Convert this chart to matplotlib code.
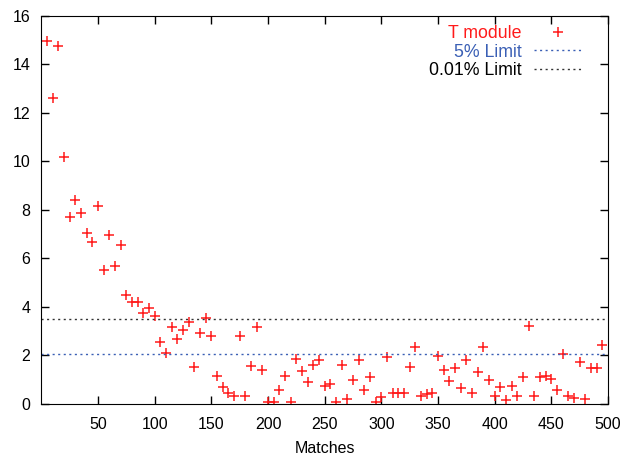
import matplotlib
matplotlib.use("Agg")
from matplotlib import pyplot as plt

plt.rcParams['font.family'] = ['Liberation Sans', 'DejaVu Sans']

# matches played (x) and T module value (y)
matches = list(range(5, 500, 5))
t_module = [14.95, 12.6, 14.75, 10.15, 7.7, 8.4, 7.85, 7.03, 6.65, 8.13,
            5.5, 6.97, 5.66, 6.53, 4.47, 4.18, 4.2, 3.74, 3.96, 3.62,
            2.53, 2.1, 3.15, 2.67, 3.03, 3.35, 1.5, 2.9, 3.52, 2.77,
            1.12, 0.68, 0.44, 0.32, 2.8, 0.32, 1.56, 3.14, 1.38, 0.05,
            0.05, 0.57, 1.12, 0.05, 1.85, 1.33, 0.89, 1.58, 1.78, 0.74,
            0.81, 0.05, 1.58, 0.2, 0.99, 1.81, 0.56, 1.09, 0.05, 0.26,
            1.91, 0.45, 0.43, 0.43, 1.5, 2.32, 0.32, 0.38, 0.42, 1.98,
            1.4, 0.91, 1.48, 0.65, 1.81, 0.44, 1.31, 2.32, 0.99, 0.33,
            0.67, 0.14, 0.74, 0.3, 1.1, 3.2, 0.3, 1.1, 1.14, 1.03,
            0.54, 2.03, 0.33, 0.21, 1.7, 0.19, 1.48, 1.46, 2.42]

limit_5 = 2.05
limit_001 = 3.5
xticks = list(range(50, 501, 50))
yticks = list(range(0, 17, 2))

fig = plt.figure(figsize=(6.24, 4.57), dpi=100)
ax = fig.add_axes([0.0665, 0.117, 0.908, 0.849])

ax.plot(matches, t_module, '+', color='#ff1a1a', markersize=6.8, markeredgewidth=1.1,
        label='T module')
ax.axhline(limit_5, color='#3a5fb5', linestyle=(0, (1.5, 2.5)), linewidth=1, label='5% Limit')
ax.axhline(limit_001, color='#333333', linestyle=(0, (1.5, 2.5)), linewidth=1, label='0.01% Limit')

ax.set_xlim(0, 500)
ax.set_ylim(0, 16)
ax.set_xticks(xticks)
ax.set_yticks(yticks)
ax.tick_params(direction='in', length=6, width=1, top=True, right=True, labelsize=11.5)
ax.tick_params(axis='x', pad=9.5)
ax.tick_params(axis='y', pad=8)
ax.set_xlabel('Matches', fontsize=11.5, labelpad=7)

# gnuplot style key: text right aligned, sample on the right
leg = ax.legend(loc='upper right', frameon=False, markerfirst=False, fontsize=12.8,
                handlelength=2.7, handletextpad=0.7, labelspacing=0.1,
                borderpad=0, borderaxespad=0, bbox_to_anchor=(0.954, 0.976))
for txt, c in zip(leg.get_texts(), ['#ff1a1a', '#3a5fb5', 'black']):
    txt.set_color(c)

fig.savefig('out.png', dpi=100)
